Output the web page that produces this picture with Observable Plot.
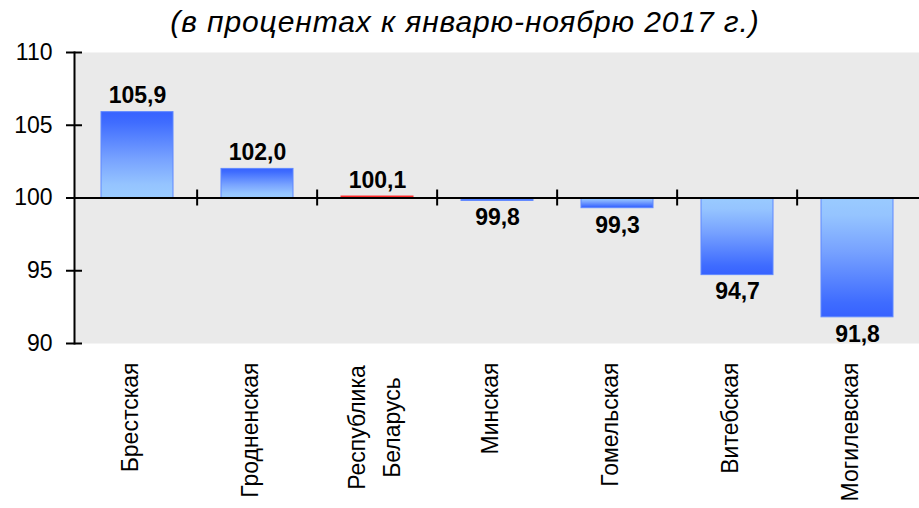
<!DOCTYPE html>
<html>
<head>
<meta charset="utf-8">
<script src="https://cdn.jsdelivr.net/npm/d3@7"></script>
<script src="https://cdn.jsdelivr.net/npm/@observablehq/plot@0.6"></script>
<style>
  body { margin: 0; background: #ffffff; }
  #wrap { width: 919px; font-family: "Liberation Sans", Arial, sans-serif; }
  #title { height: 36px; padding-top: 7px; line-height: 29px; text-align: center; padding-left: 11px; box-sizing: border-box;
           font-style: italic; font-size: 30px; letter-spacing: 0.9px; color: #000; white-space: nowrap; overflow: visible; }
  svg { display: block; overflow: visible; }
</style>
</head>
<body>
<div id="wrap">
  <div id="title">(в процентах к январю-ноябрю 2017 г.)</div>
  <div id="chart"></div>
</div>
<script>
const categories = ["Брестская", "Гродненская", "Республика\nБеларусь", "Минская", "Гомельская", "Витебская", "Могилевская"];
const values = [105.9, 102.0, 100.1, 99.8, 99.3, 94.7, 91.8];
const valueLabels = ["105,9", "102,0", "100,1", "99,8", "99,3", "94,7", "91,8"];
const yTicks = [90, 95, 100, 105, 110];
const baseline = 100;
const totalCategory = "Республика\nБеларусь";

const data = categories.map((c, i) => ({cat: c, value: values[i], label: valueLabels[i]}));
const posRegions = data.filter(d => d.cat !== totalCategory && d.value >= baseline);
const negRegions = data.filter(d => d.cat !== totalCategory && d.value < baseline);
const total = data.filter(d => d.cat === totalCategory);

const W = 919, H = 472, mL = 74, mR = 0, mT = 16, mB = 165;
const step = (W - mL - mR) / categories.length;

const svg = Plot.plot({
  width: W, height: H,
  marginTop: mT, marginBottom: mB, marginLeft: mL, marginRight: mR,
  style: {fontFamily: "'Liberation Sans', Arial, sans-serif", background: "transparent", color: "#000", overflow: "visible"},
  x: {domain: categories, paddingInner: 0.4, paddingOuter: 0.2, axis: null},
  y: {domain: [90, 110], axis: null},
  marks: [
    Plot.frame({fill: "#eaeaea", stroke: null}),
    Plot.barY(posRegions, {x: "cat", y1: baseline, y2: "value", fill: "url(#gpos)", stroke: "#5f88ff", strokeWidth: 1}),
    Plot.barY(negRegions, {x: "cat", y1: baseline, y2: "value", fill: "url(#gneg)", stroke: "#5f88ff", strokeWidth: 1}),
    Plot.barY(total, {x: "cat", y1: baseline, y2: "value", fill: "#ff2a2a", stroke: "#ff2a2a", strokeWidth: 1}),
    Plot.ruleY([baseline], {stroke: "#000", strokeWidth: 2}),
    Plot.ruleX(categories.slice(1), {x: d => d, y1: baseline, y2: baseline, insetTop: -8, insetBottom: -8, dx: -step / 2, stroke: "#000", strokeWidth: 2}),
    Plot.axisY({ticks: yTicks, tickSize: 16, dx: 8, tickFormat: () => "", label: null, strokeWidth: 2, stroke: "#000"}),
    Plot.axisY({ticks: yTicks, tickSize: 0, tickPadding: 22, fontSize: 23, label: null, fill: "#000"}),
    Plot.frame({anchor: "left", stroke: "#000", strokeWidth: 2}),
    Plot.text(data.filter(d => d.value >= baseline), {x: "cat", y: "value", text: "label", lineAnchor: "bottom", dy: -9, fontSize: 23, fontWeight: "bold", fill: "#000"}),
    Plot.text(data.filter(d => d.value < baseline), {x: "cat", y: "value", text: "label", lineAnchor: "top", dy: 8, fontSize: 23, fontWeight: "bold", fill: "#000"}),
    Plot.text(categories.filter(c => c !== totalCategory), {x: d => d, text: d => d, frameAnchor: "bottom", rotate: -90, textAnchor: "end", dy: 19, fontSize: 23, fill: "#000"}),
    Plot.text([totalCategory], {x: d => d, text: d => d, frameAnchor: "bottom", rotate: -90, textAnchor: "middle", lineHeight: 1.5, dx: 22, dy: 84, fontSize: 23, fill: "#000"})
  ]
});

const ns = "http://www.w3.org/2000/svg";
const defs = document.createElementNS(ns, "defs");
function grad(id, stops) {
  const g = document.createElementNS(ns, "linearGradient");
  g.setAttribute("id", id);
  g.setAttribute("x1", "0"); g.setAttribute("y1", "0");
  g.setAttribute("x2", "0"); g.setAttribute("y2", "1");
  stops.forEach(([o, c]) => {
    const s = document.createElementNS(ns, "stop");
    s.setAttribute("offset", o);
    s.setAttribute("stop-color", c);
    g.appendChild(s);
  });
  defs.appendChild(g);
}
grad("gpos", [[0, "#3762ff"], [0.12, "#3f6cff"], [0.55, "#77a2ff"], [0.85, "#95c4ff"], [1, "#9acbff"]]);
grad("gneg", [[0, "#9acbff"], [0.15, "#95c4ff"], [0.45, "#77a2ff"], [0.88, "#3f6cff"], [1, "#3762ff"]]);
svg.insertBefore(defs, svg.firstChild);
document.getElementById("chart").appendChild(svg);
</script>
</body>
</html>
